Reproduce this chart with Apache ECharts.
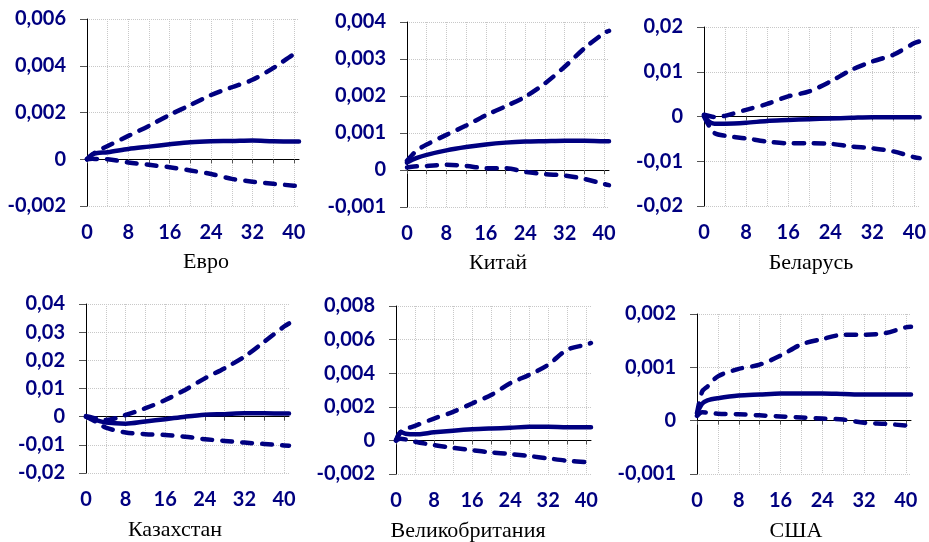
<!DOCTYPE html>
<html><head><meta charset="utf-8">
<script src="https://cdn.jsdelivr.net/npm/echarts/dist/echarts.min.js"></script>
<style>html,body{margin:0;padding:0;background:#fff}#c{width:929px;height:542px}</style>
</head><body><div id="c"></div>
<script>
const periods = [0, 1, 2, 4, 8, 12, 16, 20, 24, 28, 32, 36, 40, 41];
const xTickLabels = [0, 8, 16, 24, 32, 40];
const xTickMarks = [0, 4, 8, 12, 16, 20, 24, 28, 32, 36, 40];

const titles = ['Евро', 'Китай', 'Беларусь', 'Казахстан', 'Великобритания', 'США'];

const euroTicks = [-0.002, 0, 0.002, 0.004, 0.006];
const euroUpper = [0, 0.0002, 0.00035, 0.00057, 0.001, 0.00143, 0.0019, 0.00232, 0.00275, 0.00308, 0.0034, 0.0039, 0.0045, 0.0046];
const euroMid   = [0, 0.0002, 0.00027, 0.0003, 0.00044, 0.00054, 0.00064, 0.00073, 0.00077, 0.00078, 0.0008, 0.00077, 0.00076, 0.00076];
const euroLower = [0, 0.00002, 0.00001, 0, -0.00014, -0.00024, -0.00034, -0.00048, -0.00063, -0.00084, -0.00096, -0.00105, -0.00113, -0.00115];

const chinaTicks = [-0.001, 0, 0.001, 0.002, 0.003, 0.004];
const chinaUpper = [0.00025, 0.0004, 0.00053, 0.00069, 0.00095, 0.0012, 0.00148, 0.00172, 0.00198, 0.00234, 0.00279, 0.00329, 0.0037, 0.00376];
const chinaMid   = [0.0002, 0.00027, 0.00033, 0.00041, 0.00053, 0.00062, 0.00069, 0.00074, 0.00077, 0.00078, 0.00079, 0.00079, 0.00078, 0.00078];
const chinaLower = [0.00007, 0.00009, 0.0001, 0.00011, 0.00014, 0.00011, 0.00005, 0.00005, -0.00005, -0.00011, -0.00015, -0.00024, -0.00038, -0.00041];

const belarusTicks = [-0.02, -0.01, 0, 0.01, 0.02];
const belarusUpper = [0.0004, 0.0001, -0.0001, 0.00015, 0.0015, 0.0028, 0.0045, 0.0056, 0.0078, 0.0104, 0.0123, 0.0138, 0.0164, 0.0168];
const belarusMid   = [0.0003, -0.0012, -0.0016, -0.0016, -0.0014, -0.001, -0.0008, -0.0006, -0.00045, -0.0003, -0.00015, -0.00015, -0.00015, -0.00015];
const belarusLower = [0, -0.0022, -0.0037, -0.0043, -0.0049, -0.0056, -0.006, -0.006, -0.0061, -0.0067, -0.0071, -0.0078, -0.0091, -0.0093];

const kazTicks = [-0.02, -0.01, 0, 0.01, 0.02, 0.03, 0.04];
const kazUpper = [0.0002, -0.0002, -0.0006, -0.0012, 0.0006, 0.003, 0.0059, 0.0095, 0.0136, 0.0172, 0.0213, 0.0266, 0.032, 0.0331];
const kazMid   = [0, -0.0006, -0.0012, -0.0021, -0.0025, -0.0017, -0.0009, 0, 0.0007, 0.0009, 0.0012, 0.0012, 0.0011, 0.0011];
const kazLower = [0, -0.0009, -0.0018, -0.0039, -0.0056, -0.0062, -0.0065, -0.0071, -0.008, -0.0086, -0.0092, -0.0097, -0.0102, -0.0103];

const ukTicks = [-0.002, 0, 0.002, 0.004, 0.006, 0.008];
const ukUpper = [0, 0.0005, 0.00067, 0.00087, 0.0013, 0.0017, 0.0022, 0.0027, 0.0034, 0.0039, 0.0045, 0.0054, 0.0057, 0.0058];
const ukMid   = [0, 0.0005, 0.0004, 0.00036, 0.00048, 0.00058, 0.00066, 0.00071, 0.00075, 0.00081, 0.00081, 0.00079, 0.00079, 0.00079];
const ukLower = [0, 0.0001, 0.00006, -0.00008, -0.00028, -0.00044, -0.00058, -0.00071, -0.00081, -0.00093, -0.00107, -0.00121, -0.0013, -0.00133];

const usTicks = [-0.001, 0, 0.001, 0.002];
const usUpper = [0.00014, 0.00055, 0.00064, 0.00083, 0.00097, 0.00105, 0.00122, 0.00143, 0.00153, 0.00161, 0.00161, 0.00164, 0.00175, 0.00176];
const usMid   = [0.00014, 0.00032, 0.00038, 0.00042, 0.00047, 0.00049, 0.00051, 0.00051, 0.00051, 0.0005, 0.00049, 0.00049, 0.00049, 0.00049];
const usLower = [0.00009, 0.00016, 0.00015, 0.00013, 0.00012, 0.0001, 0.00008, 0.00006, 0.00004, 0.00002, -0.00004, -0.00006, -0.00009, -0.0001];

const NAVY = '#000080';
const panels = [
  {ticks: euroTicks, dec: 3, up: euroUpper, mid: euroMid, low: euroLower, box: {left: 87, top: 19, width: 212, height: 187}, tx: 206, ty: 262},
  {ticks: chinaTicks, dec: 3, up: chinaUpper, mid: chinaMid, low: chinaLower, box: {left: 407, top: 22, width: 202, height: 185}, tx: 498, ty: 263},
  {ticks: belarusTicks, dec: 2, up: belarusUpper, mid: belarusMid, low: belarusLower, box: {left: 704, top: 27, width: 216, height: 179}, tx: 811, ty: 263},
  {ticks: kazTicks, dec: 2, up: kazUpper, mid: kazMid, low: kazLower, box: {left: 86, top: 304, width: 203, height: 169}, tx: 175, ty: 530},
  {ticks: ukTicks, dec: 3, up: ukUpper, mid: ukMid, low: ukLower, box: {left: 396, top: 306, width: 195, height: 168}, tx: 468, ty: 531},
  {ticks: usTicks, dec: 3, up: usUpper, mid: usMid, low: usLower, box: {left: 697, top: 314, width: 214, height: 160}, tx: 796, ty: 531}
];

const labelFont = {color: NAVY, fontFamily: 'Lato', fontWeight: 'bold', fontSize: 20};
const gridLineStyle = {color: '#c8c8c8', type: 'dotted', width: 1};
const grid = [], xAxis = [], yAxis = [], series = [], graphic = [];

panels.forEach((p, i) => {
  grid.push(Object.assign({containLabel: false}, p.box));
  // bottom axis: labels + vertical grid lines
  xAxis.push({
    type: 'value', gridIndex: i, min: 0, max: 41, interval: 4, position: 'bottom',
    axisLine: {show: false, onZero: false}, axisTick: {show: false},
    axisLabel: Object.assign({margin: 17, customValues: xTickLabels,
      formatter: v => xTickLabels.indexOf(v) >= 0 ? String(v) : ''}, labelFont),
    splitLine: {show: true, showMaxLine: false, lineStyle: gridLineStyle}
  });
  // zero line with tick marks
  xAxis.push({
    type: 'value', gridIndex: i, min: 0, max: 41, interval: 4, position: 'bottom',
    axisLine: {show: true, onZero: true, lineStyle: {color: '#000', width: 1}},
    axisTick: {show: true, length: 4, customValues: xTickMarks, lineStyle: {color: '#555'}},
    axisLabel: {show: false}, splitLine: {show: false}
  });
  const t = p.ticks;
  yAxis.push({
    type: 'value', gridIndex: i, min: t[0], max: t[t.length - 1], interval: t[1] - t[0],
    axisLine: {show: true, onZero: false, lineStyle: {color: '#000', width: 1}},
    axisTick: {show: true, length: 7, lineStyle: {color: '#555'}},
    axisLabel: Object.assign({margin: 21, formatter: v => Math.abs(v) < 1e-12 ? '0' : v.toFixed(p.dec).replace('.', ',')}, labelFont),
    splitLine: {show: true, lineStyle: gridLineStyle}
  });
  const mk = (arr, dashed) => ({
    type: 'line', xAxisIndex: 2 * i, yAxisIndex: i, showSymbol: false, smooth: 0.3,
    data: periods.map((x, k) => [x, arr[k]]),
    lineStyle: {color: NAVY, width: 4.5, type: dashed ? [10, 10] : 'solid', cap: 'round', join: 'round'},
    z: 3
  });
  series.push(mk(p.up, true), mk(p.mid, false), mk(p.low, true));
  graphic.push({type: 'text', x: p.tx, y: p.ty, style: {text: titles[i], font: '22px "Liberation Serif"', fill: '#000', align: 'center', verticalAlign: 'middle'}});
});

const chart = echarts.init(document.getElementById('c'), null, {renderer: 'canvas'});
chart.setOption({animation: false, backgroundColor: '#fff', grid, xAxis, yAxis, series, graphic});
</script>
</body></html>
